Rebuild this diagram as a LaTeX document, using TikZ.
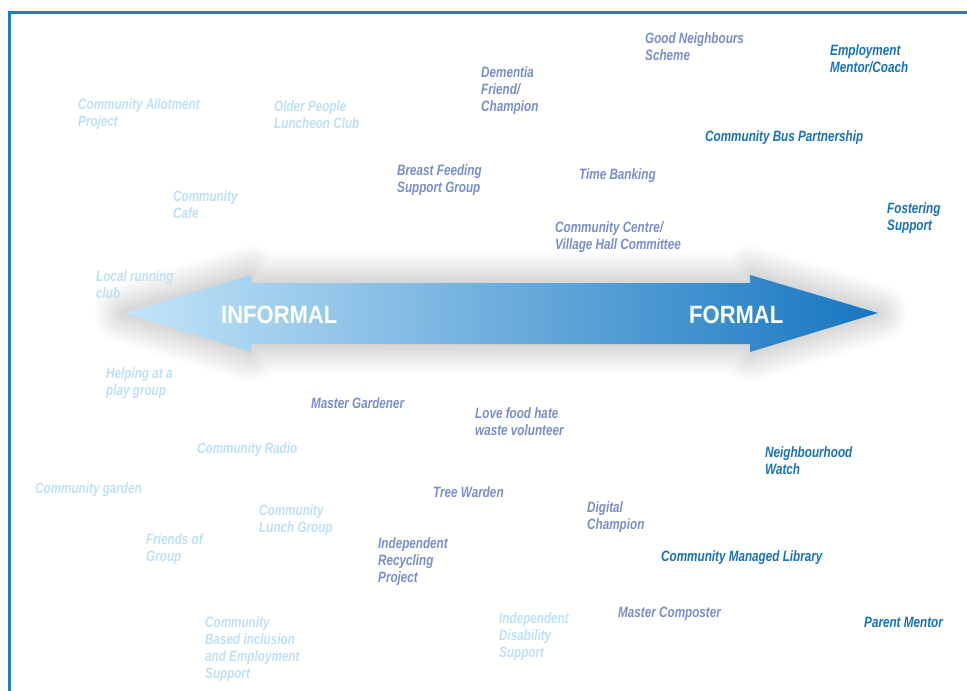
\documentclass[tikz,border=0pt]{standalone}
\usepackage{fontspec}
\setmainfont{Liberation Sans}
\newfontfamily\lblfont[FakeStretch=0.78]{Liberation Sans}
\newfontfamily\bigfont[FakeStretch=0.88]{Liberation Sans}
\definecolor{lightc}{RGB}{189,224,247}
\definecolor{midc}{RGB}{120,142,205}
\definecolor{darkc}{RGB}{24,114,186}
\definecolor{framec}{RGB}{30,123,196}
\definecolor{arrL}{RGB}{196,229,249}
\definecolor{arrR}{RGB}{22,118,192}
\tikzset{
  lbl/.style={anchor=north west, inner sep=0pt, align=left, yshift=11.9pt,
    font=\lblfont\bfseries\itshape\fontsize{15}{17}\selectfont},
  lightlbl/.style={lbl, text=lightc},
  midlbl/.style={lbl, text=midc},
  darklbl/.style={lbl, text=darkc},
  endlbl/.style={anchor=base west, inner sep=0pt, text=white,
    font=\bigfont\bfseries\fontsize{25}{28}\selectfont},
  glow/.style={draw=black, draw opacity=0.0065, line join=round, line width=#1}
}
\newcommand{\arrowpath}{(124,313) -- (251,275) -- (251,283) -- (750,283) -- (750,275) -- (878,313)
  -- (750,352) -- (750,344) -- (251,344) -- (251,352) -- cycle}
\begin{document}
\begin{tikzpicture}[x=1pt,y=-1pt]
\useasboundingbox (0,0) rectangle (967,691);
\fill[white] (0,0) rectangle (967,691);
% frame
\draw[framec, line width=3pt] (9.5,691) -- (9.5,12.5) -- (967,12.5);
% soft shadow around the arrow
\foreach \w in {3,6,...,60} {
  \path[glow=\w pt] \arrowpath;
}
% arrow
\path[left color=arrL, right color=arrR, shading angle=90] \arrowpath;
\node[endlbl] (informal) at (221,323) {INFORMAL};
\node[endlbl] (formal) at (689,323) {FORMAL};
% light labels
\node[lightlbl] (allot) at (78,109) {\strut Community Allotment\\Project};
\node[lightlbl] (older) at (274,111) {\strut Older People\\Luncheon Club};
\node[lightlbl] (cafe) at (173,201) {\strut Community\\Cafe};
\node[lightlbl] (running) at (96,281) {\strut Local running\\club};
\node[lightlbl] (helping) at (106,378.5) {\strut Helping at a\\play group};
\node[lightlbl] (radio) at (197,453) {\strut Community Radio};
\node[lightlbl] (garden) at (35,493) {\strut Community garden};
\node[lightlbl] (lunch) at (259,515) {\strut Community\\Lunch Group};
\node[lightlbl] (friends) at (146,544.5) {\strut Friends of\\Group};
\node[lightlbl] (inclusion) at (205,627) {\strut Community\\Based inclusion\\and Employment\\Support};
\node[lightlbl] (disab) at (499,623) {\strut Independent\\Disability\\Support};
% mid labels
\node[midlbl] (breast) at (397,175) {\strut Breast Feeding\\Support Group};
\node[midlbl] (dementia) at (481,77) {\strut Dementia\\Friend/\\Champion};
\node[midlbl] (goodn) at (645,43) {\strut Good Neighbours\\Scheme};
\node[midlbl] (timeb) at (579,179) {\strut Time Banking};
\node[midlbl] (centre) at (555,232.5) {\strut Community Centre/\\Village Hall Committee};
\node[midlbl] (mgard) at (311,408) {\strut Master Gardener};
\node[midlbl] (lovefood) at (475,418.5) {\strut Love food hate\\waste volunteer};
\node[midlbl] (tree) at (433,497) {\strut Tree Warden};
\node[midlbl] (digital) at (587,512) {\strut Digital\\Champion};
\node[midlbl] (recyc) at (378,548) {\strut Independent\\Recycling\\Project};
\node[midlbl] (mcomp) at (618,617) {\strut Master Composter};
% dark labels
\node[darklbl] (employ) at (830,55) {\strut Employment\\Mentor/Coach};
\node[darklbl] (bus) at (705,141) {\strut Community Bus Partnership};
\node[darklbl] (foster) at (887,213) {\strut Fostering\\Support};
\node[darklbl] (watch) at (765,457) {\strut Neighbourhood\\Watch};
\node[darklbl] (library) at (661,561) {\strut Community Managed Library};
\node[darklbl] (parent) at (864,627) {\strut Parent Mentor};
\end{tikzpicture}
\end{document}
